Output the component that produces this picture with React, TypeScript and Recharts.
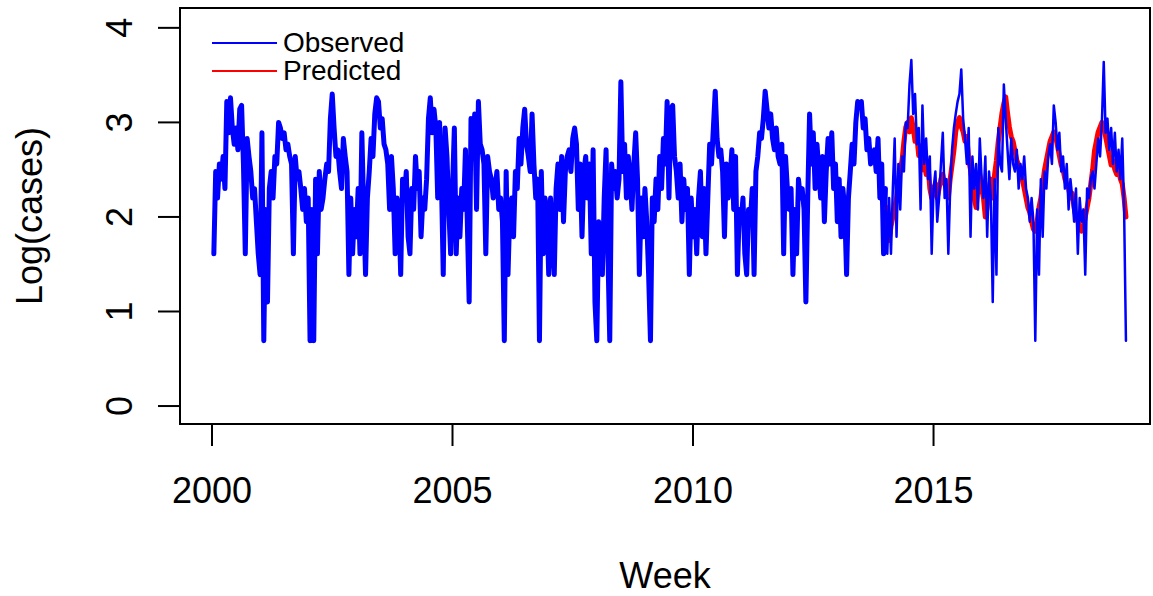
import { LineChart, Line, XAxis, YAxis, ReferenceArea } from "recharts";

// biweekly readings, each year array runs year + 1/26 ... year + 26/26
const obs2000 = [1.61, 2.48, 2.2, 2.56, 2.4, 2.64, 2.3, 3.22, 2.89, 3.26, 2.94, 2.77, 2.94, 2.71, 3.14, 3.18, 2.56, 1.61, 2.83, 2.64, 2.48, 2.2, 2.3, 1.95, 1.61, 1.39];
const obs2001 = [2.89, 0.69, 2.08, 1.1, 2.3, 2.48, 2.2, 2.64, 2.56, 3.0, 2.94, 2.83, 2.89, 2.71, 2.77, 2.64, 2.56, 1.61, 2.64, 2.4, 2.48, 2.3, 2.08, 2.3, 1.95, 2.2];
const obs2002 = [0.69, 2.08, 0.69, 2.4, 1.61, 2.48, 2.08, 2.2, 2.4, 2.56, 2.48, 3.04, 3.3, 2.94, 2.64, 2.71, 2.48, 2.3, 2.83, 2.64, 2.48, 1.39, 2.2, 1.61, 2.08, 1.79];
const obs2003 = [2.3, 1.61, 2.89, 2.08, 1.39, 2.2, 2.48, 2.83, 2.64, 3.09, 3.26, 3.22, 2.94, 3.04, 2.77, 2.71, 2.56, 2.08, 2.64, 2.3, 1.61, 2.2, 2.08, 1.39, 2.4, 2.2];
const obs2004 = [2.48, 1.79, 1.61, 2.3, 2.08, 2.64, 2.3, 2.48, 1.79, 2.2, 2.08, 2.4, 3.04, 3.26, 2.89, 3.14, 2.94, 2.2, 3.0, 2.4, 1.39, 2.94, 2.64, 2.08, 1.61, 2.3];
const obs2005 = [2.94, 1.61, 2.2, 1.79, 2.3, 2.08, 2.71, 1.95, 1.1, 3.04, 2.64, 3.09, 2.08, 3.22, 2.77, 2.71, 2.56, 1.61, 2.64, 2.48, 2.4, 2.2, 2.3, 2.48, 2.08, 2.2];
const obs2006 = [1.95, 0.69, 2.48, 1.39, 2.08, 2.2, 1.79, 2.48, 2.3, 2.83, 2.56, 2.94, 3.14, 2.77, 2.64, 2.48, 3.09, 2.56, 2.2, 2.4, 0.69, 2.48, 1.61, 2.2, 2.08, 1.39];
const obs2007 = [2.2, 1.79, 1.39, 2.3, 2.56, 2.08, 2.64, 1.95, 2.48, 2.64, 2.71, 2.48, 2.83, 2.94, 2.77, 2.08, 2.56, 1.79, 2.48, 2.64, 2.2, 2.56, 1.61, 2.71, 1.1, 0.69];
const obs2008 = [1.95, 1.61, 1.39, 2.2, 2.71, 1.61, 0.69, 2.56, 2.3, 2.48, 2.2, 2.4, 3.43, 2.48, 2.77, 2.2, 2.64, 2.4, 2.08, 2.56, 2.89, 2.4, 1.39, 2.2, 1.79, 2.3];
const obs2009 = [1.95, 1.39, 0.69, 2.2, 1.95, 2.4, 2.08, 2.64, 2.3, 2.83, 2.56, 3.22, 2.2, 3.14, 3.18, 2.64, 2.48, 2.2, 2.56, 1.95, 2.4, 2.08, 2.3, 1.39, 2.2, 1.79];
const obs2010 = [2.08, 1.61, 2.2, 2.48, 1.79, 2.3, 1.61, 2.2, 2.77, 2.56, 2.94, 3.33, 2.83, 2.64, 2.71, 2.48, 1.79, 2.56, 2.2, 2.4, 2.71, 2.08, 2.64, 1.39, 2.08, 1.95];
const obs2011 = [2.2, 1.61, 1.39, 2.08, 1.95, 2.3, 1.39, 2.48, 2.64, 2.89, 2.83, 3.04, 3.33, 3.14, 2.94, 3.09, 2.83, 2.71, 2.94, 2.64, 2.56, 2.77, 1.61, 2.64, 2.3, 2.08];
const obs2012 = [2.3, 1.39, 2.08, 1.61, 2.4, 2.2, 2.3, 2.08, 1.1, 2.2, 3.09, 2.56, 2.89, 2.3, 2.77, 2.48, 2.2, 2.64, 1.95, 2.48, 2.83, 2.56, 2.89, 2.3, 2.56, 1.95];
const obs2013 = [2.4, 1.79, 2.3, 2.08, 1.39, 2.2, 2.48, 2.77, 2.56, 3.0, 3.22, 3.18, 3.22, 2.94, 3.04, 2.71, 2.83, 2.56, 2.64, 2.71, 2.48, 2.83, 2.2, 2.56, 1.61, 2.3];
const obs2014 = [1.61, 2.2, 1.61, 2.3, 2.83, 1.79, 2.56, 2.08, 2.64, 2.48, 3.0, 2.94, 3.4, 3.66, 3.09, 3.3, 2.77, 2.94, 2.08, 3.18, 2.56, 2.83, 2.4, 2.64, 1.61, 2.3];
const obs2015 = [2.48, 1.95, 2.2, 2.56, 2.89, 2.2, 2.4, 1.61, 2.3, 2.71, 2.94, 3.09, 3.22, 3.3, 3.56, 3.04, 2.83, 2.56, 2.94, 1.79, 2.64, 2.3, 2.56, 2.08, 2.83, 2.4];
const obs2016 = [2.2, 2.64, 1.79, 2.48, 2.2, 1.1, 2.4, 1.39, 2.94, 2.56, 2.48, 3.4, 3.04, 2.71, 2.4, 2.83, 2.56, 2.48, 2.71, 2.3, 2.56, 2.4, 2.64, 2.3, 2.2, 1.95];
const obs2017 = [2.2, 1.95, 0.69, 2.08, 1.39, 2.4, 1.79, 2.48, 2.3, 2.64, 2.77, 2.56, 3.18, 3.0, 2.71, 2.89, 2.48, 2.64, 2.3, 2.56, 2.08, 2.4, 2.2, 1.95, 2.3, 1.61];
const obs2018 = [2.2, 1.95, 2.08, 1.39, 2.3, 2.2, 2.4, 2.48, 2.3, 2.56, 2.83, 2.64, 3.0, 3.64, 2.89, 3.04, 2.71, 2.94, 2.56, 2.89, 2.48, 2.71, 2.4, 2.83, 2.08, 0.69];

const pred2014 = [2.1, 1.75, 1.9, 2.0, 2.1, 2.2, 2.35, 2.5, 2.6, 2.8, 2.95, 3.0, 2.9, 3.05, 2.95, 2.8, 2.85, 2.65, 2.75, 2.5, 2.6, 2.45, 2.55, 2.3, 2.2, 2.3];
const pred2015 = [2.35, 2.2, 2.3, 2.4, 2.45, 2.35, 2.3, 2.2, 2.4, 2.55, 2.7, 2.9, 3.0, 3.05, 2.95, 2.9, 2.8, 2.85, 2.6, 2.5, 2.35, 2.2, 2.1, 2.3, 2.45, 2.3];
const pred2016 = [2.2, 2.0, 2.1, 2.3, 2.4, 2.2, 2.45, 2.6, 2.8, 2.95, 3.1, 3.2, 3.27, 3.1, 2.95, 2.85, 2.8, 2.7, 2.6, 2.55, 2.45, 2.4, 2.3, 2.2, 2.1, 2.05];
const pred2017 = [1.95, 1.87, 1.85, 1.95, 2.1, 2.2, 2.35, 2.5, 2.6, 2.7, 2.8, 2.85, 2.9, 2.85, 2.75, 2.65, 2.55, 2.5, 2.4, 2.35, 2.3, 2.2, 2.25, 2.1, 2.0, 1.95];
const pred2018 = [1.9, 1.85, 1.9, 2.0, 2.1, 2.2, 2.35, 2.5, 2.7, 2.8, 2.9, 2.95, 3.0, 2.95, 2.85, 2.75, 2.65, 2.55, 2.6, 2.5, 2.45, 2.5, 2.4, 2.35, 2.2, 2.0];

const trainYears: [number, number[]][] = [
  [2000, obs2000], [2001, obs2001], [2002, obs2002], [2003, obs2003], [2004, obs2004],
  [2005, obs2005], [2006, obs2006], [2007, obs2007], [2008, obs2008], [2009, obs2009],
  [2010, obs2010], [2011, obs2011], [2012, obs2012], [2013, obs2013],
];
const testYears: [number, number[]][] = [
  [2014, obs2014], [2015, obs2015], [2016, obs2016], [2017, obs2017], [2018, obs2018],
];
const predYears: [number, number[]][] = [
  [2014, pred2014], [2015, pred2015], [2016, pred2016], [2017, pred2017], [2018, pred2018],
];

const X_TICKS = [2000, 2005, 2010, 2015];
const Y_TICKS = [0, 1, 2, 3, 4];

function toPoints(rows: [number, number[]][]) {
  const out: { x: number; y: number }[] = [];
  rows.forEach(([year, vals]) => {
    vals.forEach((v, i) => out.push({ x: year + (i + 1) / vals.length, y: v }));
  });
  return out;
}

const obsTrain = toPoints(trainYears);
const obsTest = [obsTrain[obsTrain.length - 1], ...toPoints(testYears)];
const predicted = toPoints(predYears);

const X_MIN = 1999.335;
const X_MAX = 2019.5;
const Y_MIN = -0.19;
const Y_MAX = 4.21;

const FONT = "'Liberation Sans', Arial, Helvetica, sans-serif";

const XTick = (props: any) => {
  const { x, y, payload } = props;
  return (
    <text x={x} y={y + 55} textAnchor="middle" fontSize={36} fontFamily={FONT} fill="#000">
      {payload.value}
    </text>
  );
};

const YTick = (props: any) => {
  const { x, y, payload } = props;
  const tx = x - 24;
  return (
    <text x={tx} y={y} transform={`rotate(-90, ${tx}, ${y})`} textAnchor="middle" fontSize={36} fontFamily={FONT} fill="#000">
      {payload.value}
    </text>
  );
};

const yTitle = () => (
  <text x={42} y={216} transform="rotate(-90, 42, 216)" textAnchor="middle" fontSize={36} fontFamily={FONT} fill="#000">
    Log(cases)
  </text>
);

const xTitle = () => (
  <text x={665} y={588} textAnchor="middle" fontSize={36} fontFamily={FONT} fill="#000">
    Week
  </text>
);

function LegendBox() {
  const rows = [
    { label: "Observed", color: "#0000FF" },
    { label: "Predicted", color: "#FF0000" },
  ];
  return (
    <div style={{ position: "absolute", left: 212, top: 29, fontFamily: FONT, fontSize: 28, color: "#000" }}>
      {rows.map((r) => (
        <div key={r.label} style={{ display: "flex", alignItems: "center", height: 28, lineHeight: "28px" }}>
          <span style={{ display: "inline-block", width: 65, height: 2, background: r.color, marginRight: 6 }} />
          <span>{r.label}</span>
        </div>
      ))}
    </div>
  );
}

export default function App() {
  return (
    <div style={{ position: "absolute", left: 0, top: 0, width: 1153, height: 596, background: "#fff" }}>
      <LineChart width={1153} height={596} margin={{ top: 8, right: 3, bottom: 0, left: 0 }}>
        <XAxis
          dataKey="x"
          type="number"
          domain={[X_MIN, X_MAX]}
          ticks={X_TICKS}
          interval={0}
          allowDataOverflow
          height={172}
          tickSize={22}
          axisLine={false}
          tickLine={{ stroke: "#000", strokeWidth: 2 }}
          tick={<XTick />}
          label={xTitle}
        />
        <YAxis
          type="number"
          domain={[Y_MIN, Y_MAX]}
          ticks={Y_TICKS}
          interval={0}
          allowDataOverflow
          width={180}
          tickSize={22}
          axisLine={false}
          tickLine={{ stroke: "#000", strokeWidth: 2 }}
          tick={<YTick />}
          label={yTitle}
        />
        <Line data={obsTrain} dataKey="y" type="linear" stroke="#0000FF" strokeWidth={5} strokeLinejoin="round" strokeLinecap="round" dot={false} isAnimationActive={false} />
        <Line data={predicted} dataKey="y" type="linear" stroke="#FF0000" strokeWidth={5} strokeLinejoin="round" strokeLinecap="round" dot={false} isAnimationActive={false} />
        <Line data={obsTest} dataKey="y" type="linear" stroke="#0000FF" strokeWidth={2.5} strokeLinejoin="round" strokeLinecap="round" dot={false} isAnimationActive={false} />
        <ReferenceArea x1={X_MIN} x2={X_MAX} y1={Y_MIN} y2={Y_MAX} fill="none" fillOpacity={0} stroke="#000" strokeWidth={2} ifOverflow="visible" />
      </LineChart>
      <LegendBox />
    </div>
  );
}
